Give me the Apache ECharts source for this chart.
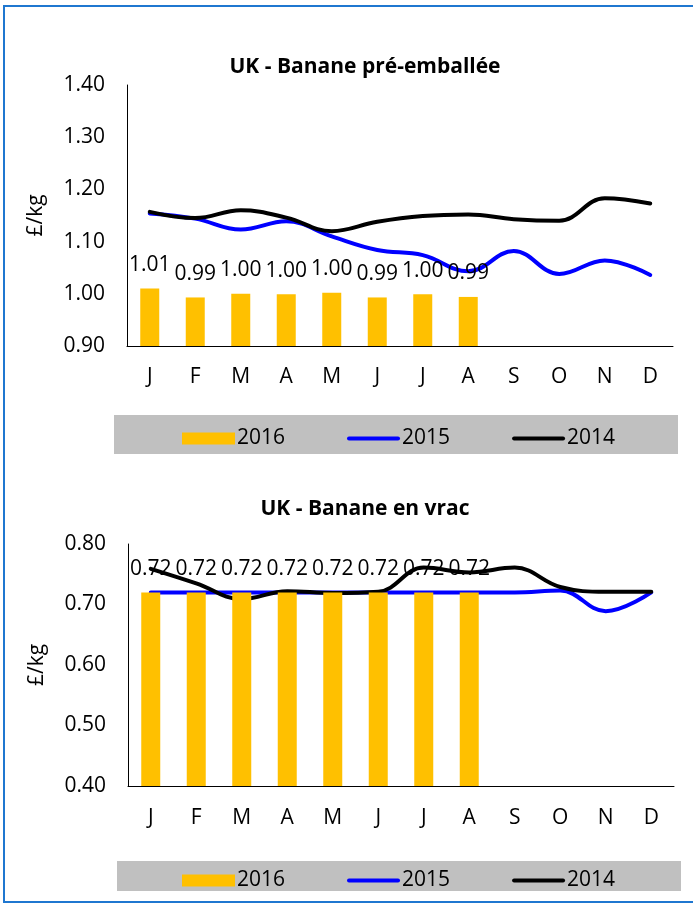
<!DOCTYPE html>
<html>
<head>
<meta charset="utf-8">
<script src="https://cdn.jsdelivr.net/npm/echarts@6/dist/echarts.min.js"></script>
<style>
    html, body { margin: 0; padding: 0; background: #fff; }
    #main { width: 693px; height: 906px; }
</style>
</head>
<body>
<div id="main"></div>
<script>
const months = ['J', 'F', 'M', 'A', 'M', 'J', 'J', 'A', 'S', 'O', 'N', 'D'];
const years = ['2016', '2015', '2014'];

// UK - Banane pré-emballée (£/kg)
const pre2016 = [1.010, 0.993, 1.000, 0.999, 1.002, 0.993, 0.999, 0.994];
const pre2015 = [1.154, 1.144, 1.123, 1.139, 1.110, 1.084, 1.074, 1.043, 1.082, 1.038, 1.064, 1.036];
const pre2014 = [1.157, 1.145, 1.160, 1.146, 1.120, 1.138, 1.149, 1.152, 1.143, 1.140, 1.183, 1.173];

// UK - Banane en vrac (£/kg)
const vrac2016 = [0.72, 0.72, 0.72, 0.72, 0.72, 0.72, 0.72, 0.72];
const vrac2015 = [0.72, 0.72, 0.72, 0.72, 0.72, 0.72, 0.72, 0.72, 0.72, 0.723, 0.689, 0.72];
const vrac2014 = [0.759, 0.735, 0.709, 0.722, 0.719, 0.721, 0.761, 0.753, 0.761, 0.729, 0.721, 0.721];

const FONT = '"Open Sans", sans-serif';
const FS = 21;
const ORANGE = '#FFC000';
const BLUE = '#0000FF';
// thin rounded bar inside a 53x12 box, used as legend icon for the lines
const LINE_ICON = 'path://M0,0L0,0M53,12L53,12M2,4h49a2,2 0 0 1 0,4h-49a2,2 0 0 1 0,-4z';

function xAxis(gridIndex, margin) {
    return {
        type: 'category',
        gridIndex: gridIndex,
        data: months,
        axisLine: { lineStyle: { color: '#000', width: 1 } },
        axisTick: { length: 6, lineStyle: { color: '#808080' } },
        axisLabel: { color: '#000', fontFamily: FONT, fontSize: FS, margin: margin }
    };
}

function yAxis(gridIndex, min, max) {
    return {
        type: 'value',
        gridIndex: gridIndex,
        min: min,
        max: max,
        interval: 0.1,
        name: '£/kg',
        nameLocation: 'middle',
        nameRotate: 90,
        nameGap: 80,
        nameTextStyle: { color: '#000', fontFamily: FONT, fontSize: FS },
        axisLine: { show: true, lineStyle: { color: '#000', width: 1 } },
        axisTick: { show: false },
        splitLine: { show: false },
        axisLabel: {
            color: '#000', fontFamily: FONT, fontSize: FS, margin: 22,
            formatter: function (v) { return v.toFixed(2); }
        }
    };
}

function barSeries(idx, data) {
    return {
        name: years[0],
        type: 'bar',
        xAxisIndex: idx,
        yAxisIndex: idx,
        data: data,
        barWidth: 19,
        itemStyle: { color: ORANGE },
        label: {
            show: true,
            position: 'top',
            distance: 13,
            color: '#000',
            fontFamily: FONT,
            fontSize: FS,
            formatter: function (p) { return p.value.toFixed(2); }
        },
        z: 3
    };
}

function lineSeries(idx, name, color, data) {
    return {
        name: name,
        type: 'line',
        xAxisIndex: idx,
        yAxisIndex: idx,
        data: data,
        smooth: 0.4,
        symbol: 'none',
        lineStyle: { color: color, width: 4, cap: 'round' },
        itemStyle: { color: color },
        z: 2
    };
}

function legend(top) {
    return {
        left: 177,
        top: top,
        itemWidth: 53,
        itemHeight: 12,
        itemGap: 62,
        data: [
            { name: years[0], icon: 'rect' },
            { name: years[1], icon: LINE_ICON },
            { name: years[2], icon: LINE_ICON }
        ],
        textStyle: { color: '#000', fontFamily: FONT, fontSize: FS, padding: [0, 0, 0, -3] }
    };
}

function title(text, top) {
    return {
        text: text,
        left: 360,
        textAlign: 'center',
        top: top,
        textStyle: { color: '#000', fontFamily: FONT, fontWeight: 'bold', fontSize: 21 }
    };
}

var myChart = echarts.init(document.getElementById('main'), null, { renderer: 'canvas' });

var option = {
    backgroundColor: '#fff',
    animation: false,
    graphic: [
        // outer frame
        { type: 'rect', shape: { x: 4, y: 6, width: 720, height: 896 }, style: { fill: 'none', stroke: '#1F77D0', lineWidth: 2 }, z: 0 },
        // legend backgrounds
        { type: 'rect', shape: { x: 114, y: 415, width: 564, height: 39 }, style: { fill: '#C0C0C0' }, z: -1 },
        { type: 'rect', shape: { x: 117, y: 861, width: 564, height: 30 }, style: { fill: '#C0C0C0' }, z: -1 }
    ],
    title: [
        title('UK - Banane pré-emballée', 52),
        title('UK - Banane en vrac', 494)
    ],
    legend: [legend(423), legend(865)],
    grid: [
        { left: 127, top: 85, width: 546, height: 261 },
        { left: 128, top: 544, width: 546, height: 242 }
    ],
    xAxis: [xAxis(0, 21), xAxis(1, 22)],
    yAxis: [yAxis(0, 0.9, 1.4), yAxis(1, 0.4, 0.8)],
    series: [
        barSeries(0, pre2016),
        lineSeries(0, years[1], BLUE, pre2015),
        lineSeries(0, years[2], '#000', pre2014),
        barSeries(1, vrac2016),
        lineSeries(1, years[1], BLUE, vrac2015),
        lineSeries(1, years[2], '#000', vrac2014)
    ]
};

myChart.setOption(option);
</script>
</body>
</html>
